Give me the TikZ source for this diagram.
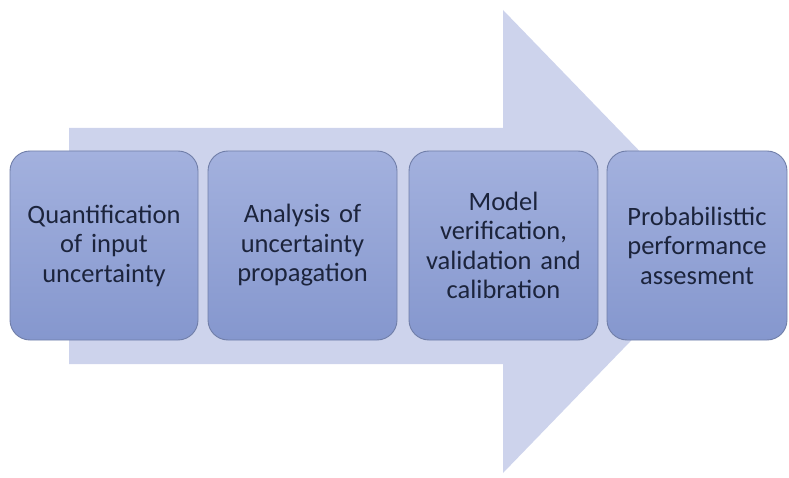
\documentclass[tikz,border=0pt]{standalone}
\usepackage{fontspec}
\setmainfont{Carlito}
\definecolor{arrowfill}{RGB}{205,211,236}
\definecolor{boxtop}{RGB}{163,177,222}
\definecolor{boxbottom}{RGB}{133,151,206}
\definecolor{boxline}{RGB}{112,126,168}
\definecolor{boxtext}{RGB}{28,36,60}
\begin{document}
\begin{tikzpicture}[x=1pt,y=-1pt,
  stagebox/.style={rectangle, rounded corners=20pt, draw=boxline, line width=0.9pt,
    top color=boxtop, bottom color=boxbottom, minimum height=189pt,
    align=center, text=boxtext, font=\fontsize{26.5}{29.5}\selectfont, inner sep=2pt}]
\useasboundingbox (0,0) rectangle (789,478);
% broad background arrow
\fill[arrowfill] (69,128) -- (503,128) -- (503,10) -- (727,241.5)
  -- (503,473) -- (503,364) -- (69,364) -- cycle;
% process stages
\node[stagebox, minimum width=188pt, text width=180pt] (s1) at (104,245.5)
  {Quantification\\of input\\uncertainty};
\node[stagebox, minimum width=189pt, text width=180pt] (s2) at (302.5,245.5)
  {Analysis of\\uncertainty\\propagation};
\node[stagebox, minimum width=189pt, text width=180pt] (s3) at (503.5,245.5)
  {Model\\verification,\\validation and\\calibration};
\node[stagebox, minimum width=180pt, text width=172pt] (s4) at (697,245.5)
  {Probabilisttic\\performance\\assesment};
\end{tikzpicture}
\end{document}
